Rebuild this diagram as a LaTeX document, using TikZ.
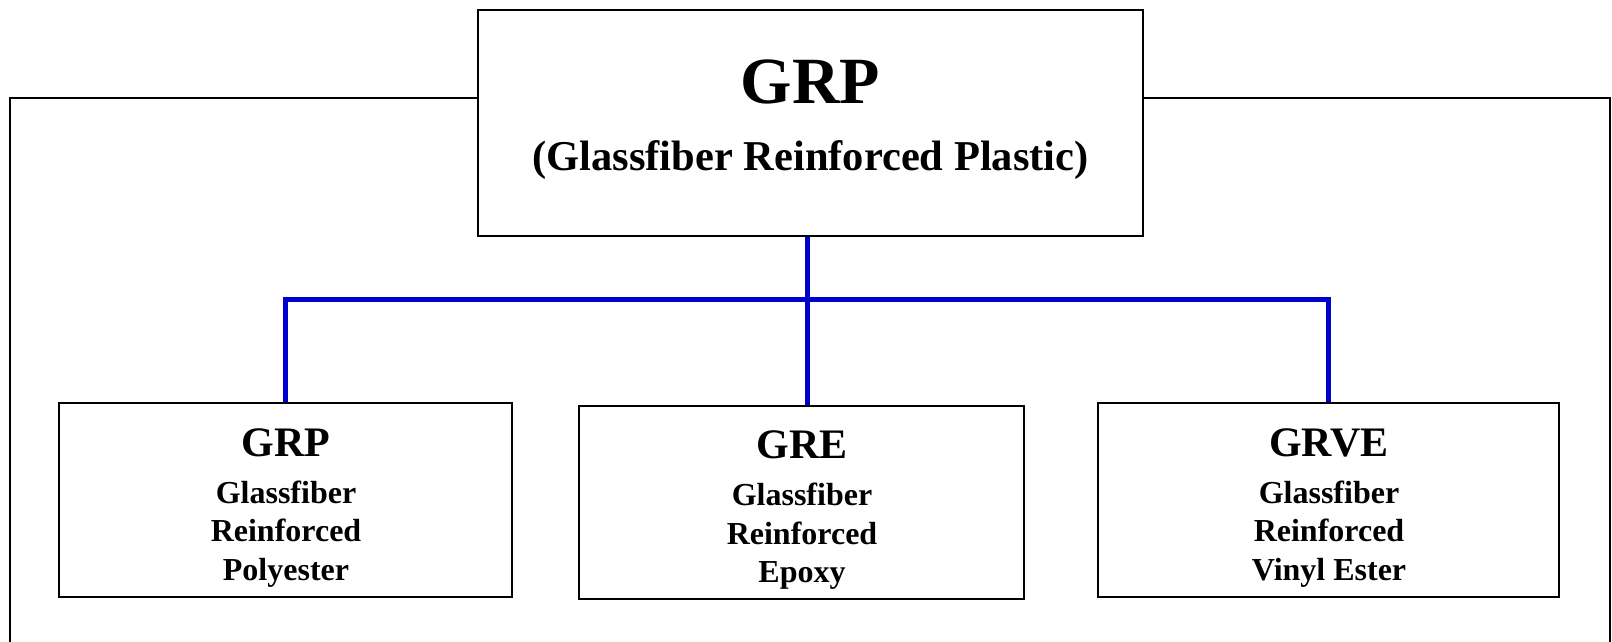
\documentclass[tikz,border=0pt]{standalone}
\usepackage{fontspec}
\setmainfont{Liberation Serif}
\definecolor{busblue}{RGB}{0,0,205}
\begin{document}
\begin{tikzpicture}[x=1pt,y=-1pt,
  box/.style={draw=black,line width=1.6pt,fill=white,inner sep=0pt},
  bus/.style={draw=busblue,line width=5pt},
  frame/.style={draw=black,line width=1.4pt},
  txt/.style={anchor=base,inner sep=0pt,font=\bfseries}]
\useasboundingbox (0,0) rectangle (1612,641);
% outer frame
\coordinate (fl) at (10,98);
\coordinate (fr) at (1610,98);
\coordinate (flb) at (10,645);
\coordinate (frb) at (1610,645);
% boxes
\node[box,minimum width=665pt,minimum height=226pt] (top) at (810.5,123) {};
\node[box,minimum width=453pt,minimum height=194pt] (left) at (285.5,500) {};
\node[box,minimum width=445pt,minimum height=193pt] (mid) at (801.5,502.5) {};
\node[box,minimum width=461pt,minimum height=194pt] (right) at (1328.5,500) {};
\draw[frame] (top.west |- fl) -- (fl) -- (flb);
\draw[frame] (top.east |- fr) -- (fr) -- (frb);
% connectors
\coordinate (j) at (807,299);
\draw[bus] (top.south -| j) -- (mid.north -| j);
\draw[bus] (left.north) |- (j) -| (right.north);
% texts
\node[txt,font=\bfseries\fontsize{66}{70}\selectfont] (t1) at (810.5,103) {GRP};
\node[txt,font=\bfseries\fontsize{42.5}{46}\selectfont] (t2) at (810.5,170) {(Glassfiber Reinforced Plastic)};
\tikzset{ctitle/.style={txt,font=\bfseries\fontsize{42}{46}\selectfont},
         cline/.style={txt,font=\bfseries\fontsize{32}{36}\selectfont}}
\node[ctitle] (l1) at (286,456) {GRP};
\node[cline] (l2) at (286,503) {Glassfiber};
\node[cline] (l3) at (286,541.5) {Reinforced};
\node[cline] (l4) at (286,580) {Polyester};
\node[ctitle] (m1) at (802,458.5) {GRE};
\node[cline] (m2) at (802,505.5) {Glassfiber};
\node[cline] (m3) at (802,544) {Reinforced};
\node[cline] (m4) at (802,582.5) {Epoxy};
\node[ctitle] (r1) at (1329,456) {GRVE};
\node[cline] (r2) at (1329,503) {Glassfiber};
\node[cline] (r3) at (1329,541.5) {Reinforced};
\node[cline] (r4) at (1329,580) {Vinyl Ester};
\end{tikzpicture}
\end{document}
